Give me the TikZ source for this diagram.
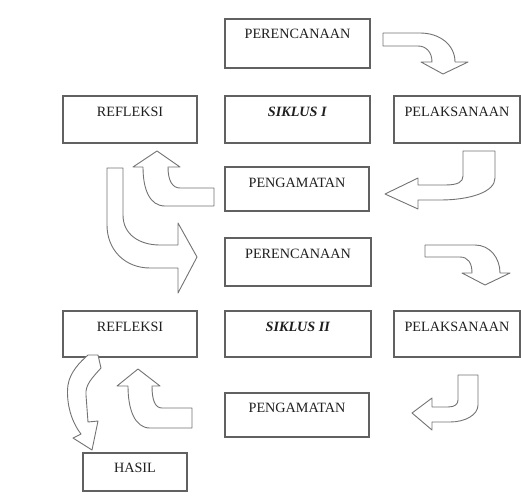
\documentclass[tikz,border=0pt]{standalone}
\usepackage{fontspec}
\setmainfont{Liberation Serif}
\begin{document}
\begin{tikzpicture}[x=1pt,y=-1pt,
  box/.style={draw=black!62, line width=1.3pt, fill=white, inner sep=0pt},
  txt/.style={inner sep=0pt, text=black!88, font=\fontsize{14.2}{16}\selectfont},
  barrow/.style={draw=black!55, line width=0.9pt, fill=white, line join=round}]
\useasboundingbox (0,0) rectangle (521,498);
% boxes
\node[box, minimum width=145pt, minimum height=49pt] (p1) at (297.5,43.5) {};
\node[box, minimum width=134pt, minimum height=47pt] (r1) at (130,119.5) {};
\node[box, minimum width=145pt, minimum height=47pt] (s1) at (297.5,119.5) {};
\node[box, minimum width=126pt, minimum height=47pt] (l1) at (457,119.5) {};
\node[box, minimum width=144pt, minimum height=44pt] (g1) at (297,189) {};
\node[box, minimum width=146pt, minimum height=48pt] (p2) at (298,262) {};
\node[box, minimum width=134pt, minimum height=46pt] (r2) at (130,334) {};
\node[box, minimum width=146pt, minimum height=46pt] (s2) at (298,334) {};
\node[box, minimum width=126pt, minimum height=46pt] (l2) at (457,334) {};
\node[box, minimum width=144pt, minimum height=44pt] (g2) at (297,415) {};
\node[box, minimum width=104pt, minimum height=38pt] (h) at (135,472) {};
% texts
\node[txt] (p1t) at (297.5,34) {PERENCANAAN};
\node[txt] (r1t) at (130,112) {REFLEKSI};
\node[txt] (s1t) at (297.5,112) {\textbf{\textit{SIKLUS I}}};
\node[txt] (l1t) at (457,112) {PELAKSANAAN};
\node[txt] (g1t) at (297,183) {PENGAMATAN};
\node[txt] (p2t) at (298,254) {PERENCANAAN};
\node[txt] (r2t) at (130,327) {REFLEKSI};
\node[txt] (s2t) at (298,327) {\textbf{\textit{SIKLUS II}}};
\node[txt] (l2t) at (457,327) {PELAKSANAAN};
\node[txt] (g2t) at (297,408) {PENGAMATAN};
\node[txt] (ht) at (135,468) {HASIL};
% block arrows
\draw[barrow] (383,33) -- (420,33) .. controls (440,33) and (455,45) .. (455,62)
  -- (468,62) -- (443,74) -- (421,62) -- (432,62)
  .. controls (432,52) and (426,46) .. (418,46) -- (383,46) -- cycle;
\draw[barrow] (463,151) -- (495,151) -- (495,178)
  .. controls (495,192) and (470,200) .. (440,200) -- (418,200) -- (418,209)
  -- (385,194) -- (418,178) -- (418,185) -- (445,185)
  .. controls (458,185) and (463,182) .. (463,176) -- cycle;
\draw[barrow] (214,188) -- (214,206) -- (165,206)
  .. controls (150,206) and (143,190) .. (143,167) -- (133,167) -- (157,151)
  -- (180,167) -- (168,167) .. controls (168,180) and (172,188) .. (180,188) -- cycle;
\draw[barrow] (107,168) -- (123,168) -- (123,215)
  .. controls (123,235) and (140,245) .. (160,245) -- (178,245) -- (178,223)
  -- (197,257) -- (178,293) -- (178,268) -- (150,268)
  .. controls (125,268) and (107,250) .. (107,225) -- cycle;
\draw[barrow] (425,245) -- (475,245) .. controls (490,245) and (500,258) .. (500,273)
  -- (510,273) -- (485,285) -- (462,273) -- (472,273)
  .. controls (472,263) and (468,257) .. (460,257) -- (425,257) -- cycle;
\draw[barrow] (458,375) -- (478,375) -- (478,405)
  .. controls (478,415) and (465,422) .. (450,422) -- (432,422) -- (432,430)
  -- (412,413) -- (432,398) -- (432,407) -- (448,407)
  .. controls (455,407) and (458,404) .. (458,400) -- cycle;
\draw[barrow] (192,408) -- (192,428) -- (150,428)
  .. controls (135,428) and (128,410) .. (128,386) -- (117,386) -- (138,369)
  -- (160,386) -- (152,386) .. controls (152,400) and (155,408) .. (162,408) -- cycle;
\draw[barrow] (88,355) -- (98,355) -- (101,368)
  .. controls (92,378) and (85,385) .. (86,395) -- (88,422) -- (98,421)
  -- (92,450) -- (73,438) -- (81,434)
  .. controls (70,420) and (66,400) .. (68,385)
  .. controls (70,372) and (80,362) .. (88,355) -- cycle;
\end{tikzpicture}
\end{document}
